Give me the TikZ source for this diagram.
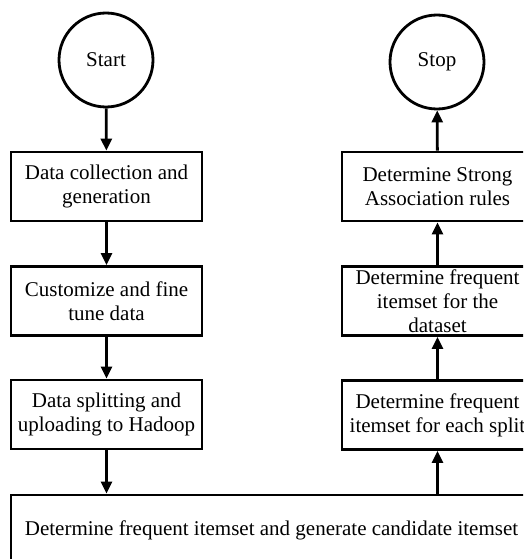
\documentclass[tikz,border=0pt]{standalone}
\usepackage{fontspec}
\setmainfont{Liberation Serif}
\usetikzlibrary{arrows.meta}

\tikzset{
  flowline/.style={line width=2.8pt},
  terminal/.style={flowline, draw, circle, minimum size=94pt, inner sep=0pt,
    font=\fontsize{21}{24}\selectfont},
  stepbox/.style={flowline, draw, rectangle, minimum width=191pt, minimum height=69pt,
    inner sep=0pt, align=center, font=\fontsize{21}{24}\selectfont},
  widebox/.style={stepbox, minimum width=521pt, minimum height=70pt},
  flow/.style={flowline, -{Triangle[length=12pt,width=11pt]}}
}

\begin{document}
\begin{tikzpicture}[x=1pt,y=-1pt]
  \useasboundingbox (0,0) rectangle (523,559);
  \clip (0,0) rectangle (523,559);

  % left column: preparation of the data
  \node[terminal] (start) at (106,60) {Start};
  \node[stepbox] (collect) at (106.5,186.5) {Data collection and\\generation};
  \node[stepbox] (tune) at (106.5,301) {Customize and fine\\tune data};
  \node[stepbox] (split) at (106.5,414.5) {Data splitting and\\uploading to Hadoop};

  % wide bottom step
  \node[widebox] (mine) at (271.5,530) {Determine frequent itemset and generate candidate itemset};

  % right column: results
  \node[stepbox] (local) at (437.5,415) {Determine frequent\\itemset for each split};
  \node[stepbox] (global) at (437.5,301) {Determine frequent\\itemset for the\\dataset};
  \node[stepbox] (rules) at (437.5,186.5) {Determine Strong\\Association rules};
  \node[terminal] (stop) at (437,62) {Stop};

  % connectors
  \draw[flow] (start) -- (collect);
  \draw[flow] (collect) -- (tune);
  \draw[flow] (tune) -- (split);
  \draw[flow] (split) -- (split |- mine.north);
  \draw[flow] (local |- mine.north) -- (local);
  \draw[flow] (local) -- (global);
  \draw[flow] (global) -- (rules);
  \draw[flow] (rules) -- (stop);
\end{tikzpicture}
\end{document}
